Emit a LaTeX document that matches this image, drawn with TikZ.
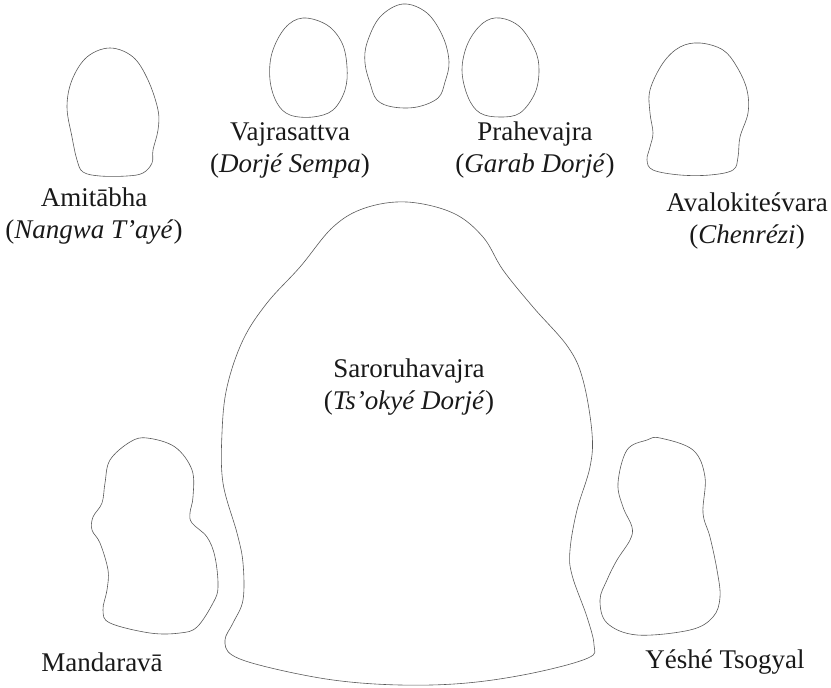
\documentclass[tikz,border=0pt]{standalone}
\usepackage{fontspec}
\setmainfont{Liberation Serif}
\begin{document}
\begin{tikzpicture}[x=1pt,y=-1pt,
  outline/.style={draw=black!65, line width=0.6pt},
  lbl/.style={text=black!90, font=\fontsize{27}{32}\selectfont, align=center, inner sep=0pt}]
\useasboundingbox (0,0) rectangle (831,688);
% Amitabha head
\draw[outline] plot[smooth cycle, tension=0.6] coordinates {(110,48) (133,57) (148,80) (158,110) (158,130) (153,150) (152,163) (143,173) (127,176) (100,176) (83,172) (77,160) (72,137) (67,107) (72,80) (87,57)};
% Avalokitesvara head
\draw[outline] plot[smooth cycle, tension=0.6] coordinates {(700,43) (723,50) (737,67) (747,90) (748,113) (740,137) (738,157) (733,170) (710,175) (680,175) (653,170) (647,160) (650,147) (653,133) (650,113) (650,90) (663,63) (680,47)};
% Vajrasattva head
\draw[outline] plot[smooth cycle, tension=0.6] coordinates {(303,18) (327,25) (342,43) (347,67) (345,90) (333,110) (313,117) (290,115) (277,103) (270,80) (272,53) (285,28)};
% middle head
\draw[outline] plot[smooth cycle, tension=0.6] coordinates {(403,4) (427,13) (443,37) (449,62) (445,82) (438,98) (417,107) (393,107) (377,100) (370,83) (365,63) (367,43) (380,17)};
% Prahevajra head
\draw[outline] plot[smooth cycle, tension=0.6] coordinates {(500,18) (520,27) (535,50) (539,70) (535,93) (520,113) (500,117) (480,113) (468,97) (462,70) (468,43) (483,23)};
% Saroruhavajra
\draw[outline] plot[smooth cycle, tension=0.6] coordinates {(407,202) (453,213) (483,237) (503,270) (533,307) (568,347) (583,380) (592,433) (590,467) (577,510) (570,550) (572,575) (587,617) (594,645) (588,658) (533,673) (467,683) (400,685) (333,680) (267,667) (232,655) (225,640) (233,623) (243,600) (243,563) (237,533) (223,483) (222,433) (227,387) (243,340) (267,303) (300,267) (333,227) (365,208)};
% Mandarava
\draw[outline] plot[smooth cycle, tension=0.6] coordinates {(147,438) (175,447) (192,470) (193,497) (190,513) (192,523) (207,537) (215,557) (218,587) (213,603) (197,627) (180,633) (150,633) (110,623) (103,610) (107,590) (108,570) (100,543) (92,530) (93,517) (102,503) (105,483) (110,460) (130,442)};
% Yeshe Tsogyal
\draw[outline] plot[smooth cycle, tension=0.6] coordinates {(660,438) (693,450) (705,477) (703,513) (710,537) (717,570) (720,597) (713,617) (690,630) (637,635) (607,623) (600,600) (607,580) (617,560) (630,540) (632,527) (623,507) (618,483) (627,450) (647,440)};
% labels
\node[lbl] (amitabha) at (94,216) {Amitābha\\(\textit{Nangwa T’ayé})};
\node[lbl] (vajrasattva) at (290,150) {Vajrasattva\\(\textit{Dorjé Sempa})};
\node[lbl] (prahevajra) at (535,150) {Prahevajra\\(\textit{Garab Dorjé})};
\node[lbl] (avalokitesvara) at (747,221) {Avalokiteśvara\\(\textit{Chenrézi})};
\node[lbl] (saroruhavajra) at (409,387) {Saroruhavajra\\(\textit{Ts’okyé Dorjé})};
\node[lbl] (mandarava) at (102,662) {Mandaravā};
\node[lbl] (yeshe) at (725,662) {Yéshé Tsogyal};
\end{tikzpicture}
\end{document}
